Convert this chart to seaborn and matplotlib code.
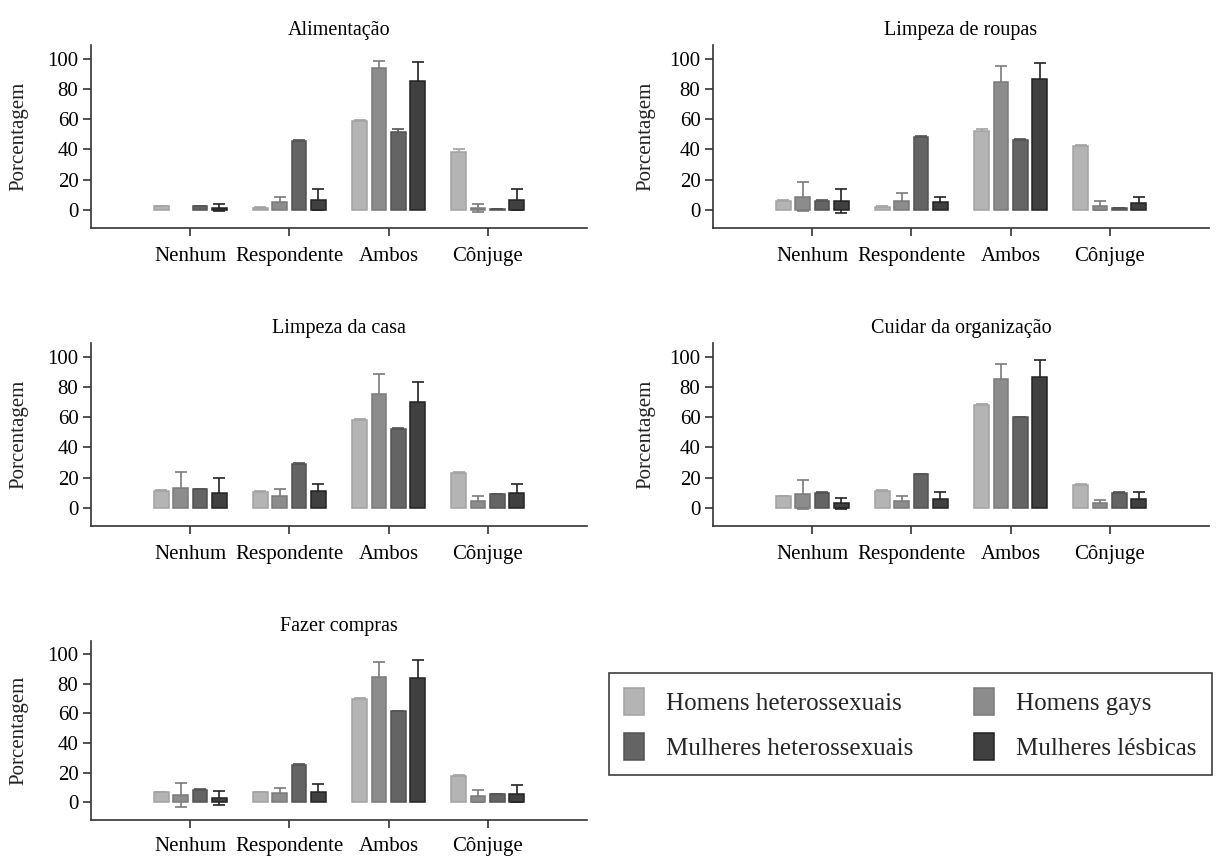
import matplotlib
matplotlib.use("Agg")
import matplotlib.pyplot as plt
import matplotlib.patches as mpatches
import pandas as pd
import seaborn as sns

# Categorias de quem realiza a tarefa e grupos de respondentes
categorias = ["Nenhum", "Respondente", "Ambos", "Cônjuge"]
grupos = ["Homens heterossexuais", "Homens gays",
          "Mulheres heterossexuais", "Mulheres lésbicas"]
tarefas = ["Alimentação", "Limpeza de roupas", "Limpeza da casa",
           "Cuidar da organização", "Fazer compras"]

# Porcentagens (linhas: grupos; colunas: categorias) e erros
alimentacao = [[2.5, 1.5, 58.5, 38.5],
               [0.0, 5.0, 94.0, 1.3],
               [2.5, 45.5, 51.5, 0.5],
               [1.5, 6.8, 85.0, 6.8]]
alimentacao_erro = [[0.3, 0.3, 0.8, 2.0],
                    [0.0, 3.5, 4.7, 2.5],
                    [0.3, 1.0, 1.8, 0.2],
                    [2.5, 7.0, 13.0, 7.0]]

limpeza_roupas = [[6.0, 1.8, 52.0, 42.0],
                  [8.8, 6.0, 84.5, 2.6],
                  [6.0, 48.0, 46.5, 1.3],
                  [5.7, 5.0, 86.3, 4.8]]
limpeza_roupas_erro = [[0.6, 1.0, 1.6, 0.7],
                       [9.5, 5.0, 10.7, 3.0],
                       [0.6, 0.7, 0.6, 0.2],
                       [8.0, 3.8, 10.8, 4.0]]

limpeza_casa = [[11.3, 10.5, 58.0, 23.0],
                [13.0, 8.0, 75.5, 4.8],
                [12.2, 29.0, 52.0, 9.0],
                [10.0, 11.0, 70.3, 10.0]]
limpeza_casa_erro = [[0.6, 0.5, 0.6, 0.6],
                     [10.7, 4.6, 12.7, 3.0],
                     [0.5, 0.6, 0.5, 0.2],
                     [9.7, 4.8, 13.0, 6.0]]

organizacao = [[7.7, 11.2, 67.8, 15.2],
               [9.0, 4.8, 85.3, 3.1],
               [9.9, 22.2, 59.8, 9.9],
               [3.0, 5.9, 86.2, 5.9]]
organizacao_erro = [[0.3, 0.6, 0.6, 0.6],
                    [9.7, 3.0, 9.9, 2.0],
                    [0.3, 0.5, 0.5, 0.3],
                    [3.7, 4.9, 11.6, 4.9]]

compras = [[6.8, 6.6, 69.8, 18.0],
           [5.0, 6.2, 85.0, 4.0],
           [8.1, 25.3, 61.5, 5.3],
           [3.1, 7.0, 84.2, 5.9]]
compras_erro = [[0.3, 0.5, 0.6, 0.6],
                [8.0, 3.7, 10.0, 4.0],
                [0.6, 0.5, 0.5, 0.5],
                [4.8, 5.0, 11.8, 6.0]]

valores = [alimentacao, limpeza_roupas, limpeza_casa, organizacao, compras]
erros = [alimentacao_erro, limpeza_roupas_erro, limpeza_casa_erro,
         organizacao_erro, compras_erro]

cores = ["#b4b4b4", "#8c8c8c", "#646464", "#404040"]
bordas = ["#a2a2a2", "#7a7a7a", "#525252", "#222222"]

sns.set_theme(style="ticks")
plt.rcParams["font.family"] = ["Liberation Serif", "DejaVu Serif"]

W, H = 1219, 858
fig = plt.figure(figsize=(W / 100, H / 100), dpi=100)

# Posições dos painéis em pixels: (esquerda, topo, largura, altura)
paineis_px = [(91, 45, 496, 183), (713, 45, 496, 183),
              (91, 343, 496, 183), (713, 343, 496, 183),
              (91, 641, 496, 179)]

eixo_cor = "#333333"

for tarefa, vals, errs, (lx, ty, w, h) in zip(tarefas, valores, erros, paineis_px):
    ax = fig.add_axes([lx / W, 1 - (ty + h) / H, w / W, h / H])
    linhas = []
    for g, grupo in enumerate(grupos):
        for c, cat in enumerate(categorias):
            linhas.append({"categoria": cat, "grupo": grupo,
                           "valor": vals[g][c], "erro": errs[g][c]})
    df = pd.DataFrame(linhas)

    sns.barplot(data=df, x="categoria", y="valor", hue="grupo",
                order=categorias, hue_order=grupos, palette=cores,
                width=0.78, gap=0.24, errorbar=None, linewidth=1.1,
                saturation=1, legend=False, ax=ax)

    for cont, grupo, ec in zip(ax.containers, grupos, bordas):
        sub = df[df["grupo"] == grupo].set_index("categoria")
        xs, ys, es = [], [], []
        for p in cont:
            p.set_edgecolor(ec)
            if p.get_height() == 0:
                p.set_linewidth(0)
            xc = p.get_x() + p.get_width() / 2
            cat = categorias[int(round(xc))]
            if sub.loc[cat, "erro"] > 0:
                xs.append(xc)
                ys.append(sub.loc[cat, "valor"])
                es.append(sub.loc[cat, "erro"])
        ax.errorbar(xs, ys, yerr=es, fmt="none", ecolor=ec, elinewidth=1.2,
                    capsize=4, capthick=1.2, zorder=0.8)

    ax.set_xlim(-1, 4)
    ax.set_ylim(-12, 109)
    ax.set_yticks([0, 20, 40, 60, 80, 100])
    sns.despine(ax=ax)
    for s in ("left", "bottom"):
        ax.spines[s].set_color(eixo_cor)
        ax.spines[s].set_linewidth(1.2)
    ax.tick_params(axis="both", length=6, width=1.2, color=eixo_cor,
                   labelsize=15, labelcolor="black")
    ax.tick_params(axis="x", pad=8 if ty < 600 else 6)
    ax.tick_params(axis="y", pad=3)
    ax.set_xlabel("")
    ax.set_ylabel("Porcentagem", fontsize=15, color="#222222")
    ax.yaxis.set_label_coords(-0.127 if lx < 300 else -0.117, 0.5)
    ax.set_title(tarefa, fontsize=14.5, pad=7, color="black")

handles = [mpatches.Patch(facecolor=c, edgecolor=e, linewidth=1.1)
           for c, e in zip(cores, bordas)]
ordem = [0, 2, 1, 3]
leg = fig.legend([handles[i] for i in ordem], [grupos[i] for i in ordem],
                 loc="upper left", bbox_to_anchor=(609 / W, 1 - 673 / H),
                 ncol=2, fontsize=18, frameon=True, fancybox=False,
                 edgecolor="#404040", framealpha=1, handlelength=0.8,
                 handleheight=1.3, handletextpad=0.9, columnspacing=2.4,
                 borderpad=0.6, labelspacing=0.7, borderaxespad=0)
leg.get_frame().set_linewidth(1.2)

fig.savefig("out.png", dpi=100)
